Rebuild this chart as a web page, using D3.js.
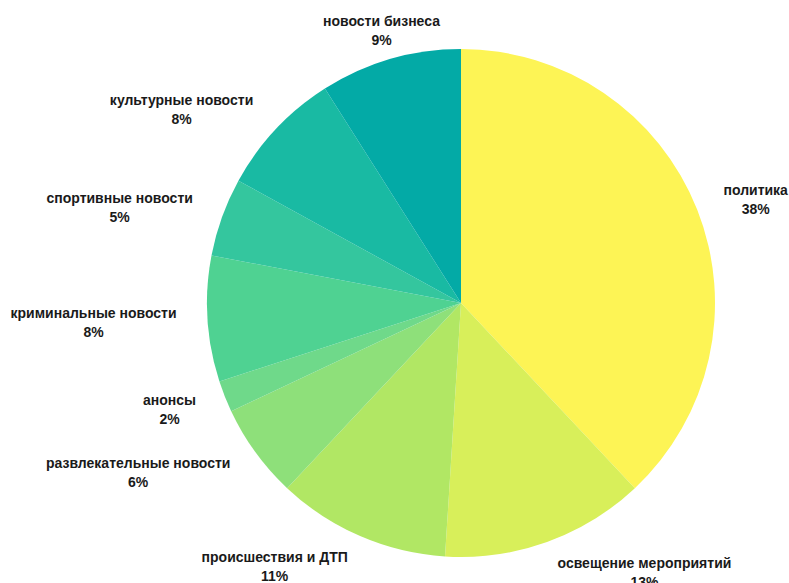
<!DOCTYPE html>
<meta charset="utf-8">
<style>
body { margin: 0; background: #fff; }
.label { font-family: "Liberation Sans", Arial, sans-serif; font-weight: bold; font-size: 14px; fill: #1a1a1a; }
</style>
<body>
<script src="https://cdn.jsdelivr.net/npm/d3@7"></script>
<script>

// data
var categories = ["политика", "освещение мероприятий", "происшествия и ДТП",
  "развлекательные новости", "анонсы", "криминальные новости",
  "спортивные новости", "культурные новости", "новости бизнеса"];
var values = [38, 13, 11, 6, 2, 8, 5, 8, 9];
var colors = ["#fdf455", "#d8ef5a", "#b1e764", "#8ee07a", "#6fd98a",
  "#4fd292", "#34c69e", "#19baa3", "#03aaa6"];

var width = 789, height = 583,
    cx = 461, cy = 303, radius = 254, labelRadius = 285;

var data = categories.map(function(c, i) { return {name: c, value: values[i], color: colors[i]}; });

var svg = d3.select("body").append("svg")
    .attr("width", width)
    .attr("height", height);

var g = svg.append("g")
    .attr("transform", "translate(" + cx + "," + cy + ")");

var pie = d3.pie()
    .sort(null)
    .value(function(d) { return d.value; });

var arc = d3.arc()
    .innerRadius(0)
    .outerRadius(radius);

var arcs = pie(data);

g.selectAll("path")
    .data(arcs)
  .enter().append("path")
    .attr("d", arc)
    .attr("fill", function(d) { return d.data.color; });

// labels outside, edge nearest to the pie sits on the label radius
var labels = g.selectAll("g.lbl")
    .data(arcs)
  .enter().append("g")
    .attr("class", "lbl");

labels.each(function(d) {
  var a = (d.startAngle + d.endAngle) / 2,
      s = Math.sin(a),
      px = labelRadius * s,
      py = -labelRadius * Math.cos(a);
  var t = d3.select(this).append("text")
      .attr("class", "label")
      .attr("text-anchor", "middle");
  t.append("tspan").attr("x", 0).attr("y", -3).text(d.data.name);
  t.append("tspan").attr("x", 0).attr("y", 16).text(d.data.value + "%");
  var w = t.node().getBBox().width;
  var dx = 0;
  if (s > 0.3) dx = w / 2;
  else if (s < -0.3) dx = -w / 2;
  // keep the label inside the page
  var right = cx + px + dx + w / 2;
  if (right > width - 1) dx -= right - (width - 1);
  var left = cx + px + dx - w / 2;
  if (left < 1) dx += 1 - left;
  d3.select(this).attr("transform", "translate(" + (px + dx) + "," + py + ")");
});

</script>
</body>
